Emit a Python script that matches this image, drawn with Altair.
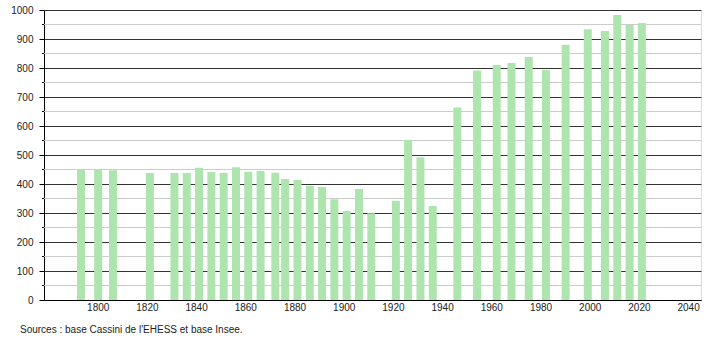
import altair as alt
import pandas as pd

years = [1793, 1800, 1806, 1821, 1831, 1836, 1841, 1846, 1851, 1856, 1861, 1866,
         1872, 1876, 1881, 1886, 1891, 1896, 1901, 1906, 1911, 1921, 1926, 1931,
         1936, 1946, 1954, 1962, 1968, 1975, 1982, 1990, 1999, 2006, 2011, 2016, 2021]
population = [451, 451, 447, 438, 438, 438, 456, 441, 438, 458, 442, 445,
              439, 417, 414, 394, 390, 347, 307, 383, 299, 342, 552, 492,
              324, 664, 791, 810, 817, 838, 793, 880, 934, 928, 983, 948, 955]
x_ticks = [1800, 1820, 1840, 1860, 1880, 1900, 1920, 1940, 1960, 1980, 2000, 2020, 2040]
y_major = [0, 100, 200, 300, 400, 500, 600, 700, 800, 900, 1000]
y_minor = [50, 150, 250, 350, 450, 550, 650, 750, 850, 950]
source = "Sources : base Cassini de l'EHESS et base Insee."

df = pd.DataFrame({"year": years, "pop": population})
minor_df = pd.DataFrame({"v": y_minor})
xlab_df = pd.DataFrame({"year": x_ticks, "label": [str(v) for v in x_ticks]})

FONT = "Liberation Sans"
xscale = alt.Scale(domain=[1780, 2043], nice=False, zero=False)
yscale = alt.Scale(domain=[0, 1000], nice=False)

y_axis = alt.Axis(values=y_major, format="d", title=None, tickSize=5, tickColor="#000000",
                  domainColor="#000000", domainWidth=1, grid=True, gridColor="#333333",
                  gridWidth=1, labelPadding=6, labelFont=FONT, labelFlush=False,
                  labelFontSize=10, labelColor="#222222")
x_axis = alt.Axis(values=x_ticks, title=None, ticks=False, labels=False,
                  grid=False, domainColor="#000000", domainWidth=1)

minor_grid = alt.Chart(minor_df).mark_rule(color="#cccccc", strokeWidth=1).encode(
    y=alt.Y("v:Q", scale=yscale, axis=y_axis),
    x=alt.value(0), x2=alt.value(657),
)
minor_ticks = alt.Chart(minor_df).mark_rule(color="#000000", strokeWidth=1).encode(
    y=alt.Y("v:Q", scale=yscale, axis=y_axis),
    x=alt.value(-2), x2=alt.value(0),
)

bars = alt.Chart(df).mark_bar(size=8, color="#aee4ae").encode(
    x=alt.X("year:Q", scale=xscale, axis=x_axis),
    y=alt.Y("pop:Q", scale=yscale, axis=y_axis),
)

xlabels = alt.Chart(xlab_df).mark_text(
    align="center", baseline="middle", font=FONT, fontSize=10, color="#222222"
).encode(x=alt.X("year:Q", scale=xscale, axis=x_axis), y=alt.value(298), text="label:N")

src = alt.Chart(pd.DataFrame({"t": [source]})).mark_text(
    align="left", baseline="middle", font=FONT, fontSize=10, color="#222222"
).encode(text="t:N", x=alt.value(-24), y=alt.value(320))

chart = alt.layer(minor_grid, minor_ticks, bars, xlabels, src).properties(
    width=657, height=290,
    autosize=alt.AutoSizeParams(type="none"),
    padding={"left": 44, "top": 10, "right": 9, "bottom": 40},
).configure_view(stroke=None).configure(background="white")

chart.save("out.html", embed_options={"renderer": "svg", "actions": False})
